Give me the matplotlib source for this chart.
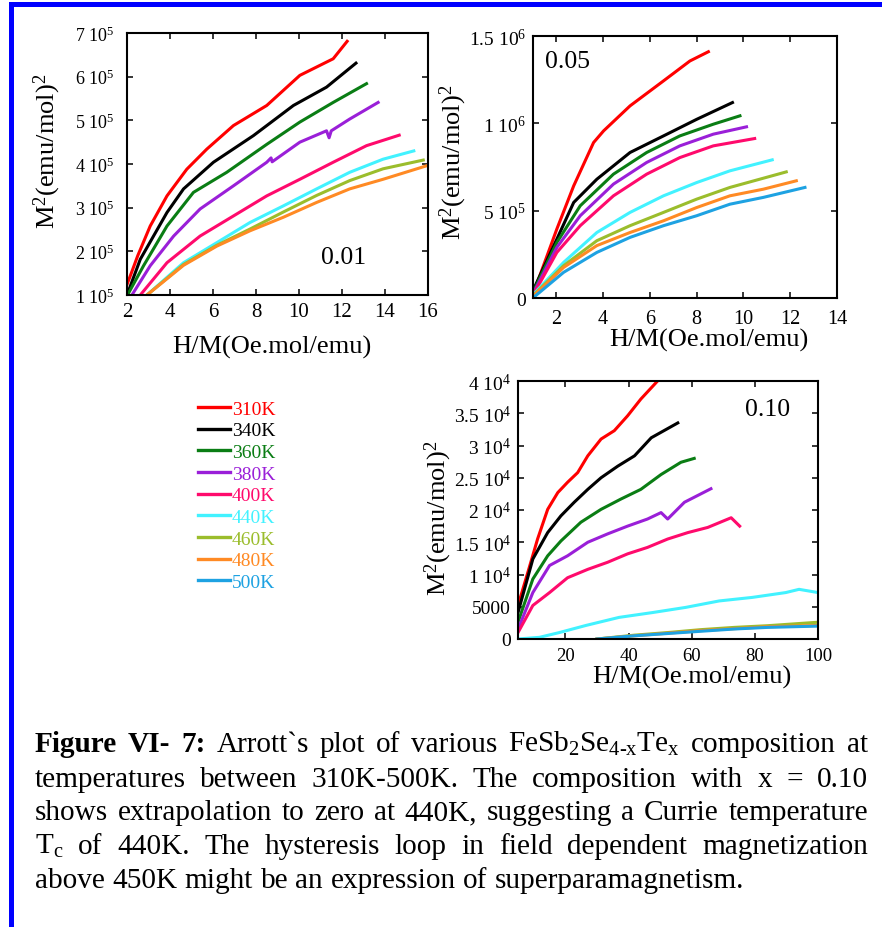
"""
Arrott plots (M^2 vs H/M) of FeSb2Se4-xTex for x = 0.01, 0.05 and 0.10,
with the shared temperature legend and the figure caption below.
"""

import matplotlib

matplotlib.use("Agg")
import matplotlib.pyplot as plt
import numpy as np
from matplotlib.lines import Line2D
from matplotlib.ticker import FuncFormatter, MultipleLocator

plt.rcParams["font.family"] = ["Liberation Serif", "DejaVu Serif"]
plt.rcParams["mathtext.fontset"] = "custom"
plt.rcParams["mathtext.rm"] = "Liberation Serif"
plt.rcParams["mathtext.it"] = "Liberation Serif:italic"
plt.rcParams["mathtext.bf"] = "Liberation Serif:bold"

TEMPS = ["310K", "340K", "360K", "380K", "400K", "440K", "460K", "480K", "500K"]
COLORS = ["#ff0000", "#000000", "#0a7d14", "#9a1fd8", "#ff0a6c",
          "#42f2ff", "#9bbd2c", "#ff8a24", "#1ea2e2"]

# ---- x = 0.01 (M^2 in units of 1e5) ----
X_001 = {
    "310K": [2.0, 2.2, 2.5, 3.08, 3.86, 4.78, 5.71, 6.95, 8.5, 10.04, 11.59, 12.24],
    "340K": [2.0, 2.62, 3.86, 4.63, 6.02, 7.88, 9.74, 11.28, 12.65],
    "360K": [2.08, 2.77, 3.86, 5.09, 6.64, 8.5, 10.04, 11.59, 13.14],
    "380K": [2.23, 3.08, 4.17, 5.4, 6.95, 8.5, 8.7, 8.75, 10.04, 11.28, 11.4, 11.5, 12.36, 13.68],
    "400K": [2.62, 3.86, 5.4, 6.95, 8.5, 10.04, 11.59, 13.14, 14.66],
    "440K": [2.93, 4.63, 6.18, 7.72, 9.27, 10.82, 12.36, 13.91, 15.34],
    "460K": [2.93, 4.63, 6.18, 7.72, 9.27, 10.82, 12.36, 13.91, 15.78],
    "480K": [2.93, 4.63, 6.18, 7.72, 9.27, 10.82, 12.36, 13.91, 15.94],
}
Y_001 = {
    "310K": [1.24, 1.5, 1.9, 2.58, 3.27, 3.88, 4.34, 4.88, 5.34, 6.03, 6.41, 6.81],
    "340K": [1.0, 1.82, 2.89, 3.43, 4.04, 4.65, 5.34, 5.76, 6.31],
    "360K": [1.05, 1.67, 2.58, 3.35, 3.81, 4.45, 4.96, 5.41, 5.84],
    "380K": [1.0, 1.67, 2.35, 2.97, 3.5, 4.04, 4.14, 4.05, 4.5, 4.76, 4.6, 4.76, 5.03, 5.41],
    "400K": [1.0, 1.74, 2.35, 2.81, 3.27, 3.65, 4.04, 4.42, 4.66],
    "440K": [1.0, 1.74, 2.2, 2.66, 3.04, 3.43, 3.81, 4.11, 4.3],
    "460K": [1.0, 1.7, 2.14, 2.51, 2.9, 3.28, 3.62, 3.89, 4.09],
    "480K": [1.0, 1.68, 2.12, 2.47, 2.78, 3.12, 3.43, 3.65, 3.96],
}

# ---- x = 0.05 (M^2 in units of 1e5) ----
X_005 = {
    "310K": [1.03, 2.02, 2.74, 3.59, 4.02, 5.15, 6.58, 7.71, 8.5],
    "340K": [1.03, 2.02, 2.74, 3.73, 5.15, 6.58, 8.0, 9.53],
    "360K": [1.03, 2.02, 3.02, 4.44, 5.86, 7.28, 8.71, 9.85],
    "380K": [1.03, 2.02, 3.02, 4.44, 5.86, 7.28, 8.71, 10.13],
    "400K": [1.03, 2.02, 3.02, 4.44, 5.86, 7.28, 8.71, 10.48],
    "440K": [1.03, 2.31, 3.73, 5.15, 6.58, 8.0, 9.42, 11.23],
    "460K": [1.03, 2.31, 3.73, 5.15, 6.58, 8.0, 9.42, 11.83],
    "480K": [1.03, 2.31, 3.73, 5.15, 6.58, 8.0, 9.42, 10.85, 12.26],
    "500K": [1.03, 2.31, 3.73, 5.15, 6.58, 8.0, 9.42, 10.85, 12.63],
}
Y_005 = {
    "310K": [0.32, 3.95, 6.42, 8.9, 9.57, 11.0, 12.43, 13.57, 14.1],
    "340K": [0.51, 3.37, 5.47, 6.8, 8.33, 9.28, 10.23, 11.19],
    "360K": [0.42, 3.18, 5.28, 7.09, 8.33, 9.28, 9.95, 10.43],
    "380K": [0.32, 2.9, 4.71, 6.52, 7.76, 8.71, 9.38, 9.8],
    "400K": [0.23, 2.61, 4.14, 5.85, 7.09, 8.04, 8.71, 9.13],
    "440K": [0.23, 2.04, 3.75, 4.9, 5.85, 6.61, 7.28, 7.91],
    "460K": [0.17, 1.85, 3.28, 4.14, 4.9, 5.66, 6.33, 7.22],
    "480K": [0.13, 1.75, 3.0, 3.75, 4.42, 5.18, 5.85, 6.23, 6.71],
    "500K": [0.04, 1.47, 2.61, 3.47, 4.14, 4.71, 5.37, 5.76, 6.33],
}

# ---- x = 0.10 (M^2 in units of 1e4) ----
X_010 = {
    "310K": [5, 8.1, 11.2, 14.4, 17.6, 20.7, 23.9, 27.1, 31.3, 35.5, 39.7, 43.9, 49.2],
    "340K": [5, 9.7, 14.4, 18.6, 22.8, 27.1, 31.3, 36.6, 41.9, 47.2, 55.6],
    "360K": [5, 9.7, 14.4, 18.6, 24.9, 31.3, 37.6, 43.9, 50.3, 56.6, 60.8],
    "380K": [5, 9.7, 15, 20.7, 27.1, 33.4, 39.7, 46, 50.3, 52.4, 57.7, 66.1],
    "400K": [5, 9.7, 15, 20.7, 27.1, 33.4, 39.7, 46, 52.4, 58.8, 65.1, 72.5, 75.2],
    "440K": [5, 11.8, 18.1, 26.5, 37.0, 47.6, 58.1, 68.7, 79.2, 89.8, 94, 100],
    "460K": [30, 41.9, 52.4, 62.9, 73.5, 84, 100],
    "480K": [30, 41.9, 52.4, 62.9, 73.5, 84, 100],
    "500K": [30, 41.9, 52.4, 62.9, 73.5, 84, 100],
}
Y_010 = {
    "310K": [0.52, 1.03, 1.55, 2.01, 2.27, 2.43, 2.58, 2.84, 3.1, 3.23, 3.46, 3.72, 4.0],
    "340K": [0.41, 1.24, 1.65, 1.91, 2.12, 2.32, 2.5, 2.68, 2.84, 3.12, 3.35],
    "360K": [0.26, 0.93, 1.29, 1.52, 1.81, 2.01, 2.17, 2.32, 2.55, 2.74, 2.8],
    "380K": [0.15, 0.72, 1.14, 1.29, 1.5, 1.63, 1.75, 1.86, 1.96, 1.86, 2.12, 2.33],
    "400K": [0.1, 0.52, 0.72, 0.95, 1.08, 1.19, 1.32, 1.42, 1.55, 1.65, 1.73, 1.88, 1.75],
    "440K": [0.0, 0.026, 0.1, 0.21, 0.335, 0.41, 0.49, 0.59, 0.645, 0.72, 0.77, 0.72],
    "460K": [0.0, 0.06, 0.1, 0.145, 0.18, 0.206, 0.26],
    "480K": [0.0, 0.05, 0.09, 0.13, 0.16, 0.19, 0.21],
    "500K": [0.0, 0.05, 0.085, 0.12, 0.155, 0.18, 0.2],
}

CAPTION = [
    [("Figure", "bold"), ("VI-", "bold"), ("7:", "bold"), ("Arrott`s", "normal"),
     ("plot", "normal"), ("of", "normal"), ("various", "normal"),
     (r"FeSb$_\mathrm{2}$Se$_\text{4-x}$Te$_\mathrm{x}$", "normal"),
     ("composition", "normal"), ("at", "normal")],
    "temperatures between 310K-500K. The composition with x = 0.10",
    "shows extrapolation to zero at 440K, suggesting a Currie temperature",
    r"T$_\mathrm{c}$ of 440K. The hysteresis loop in field dependent magnetization",
    "above 450K might be an expression of superparamagnetism.",
]

W, H = 882, 928


def sci_label(v, _pos=None):
    if v <= 0:
        return "0"
    exp = int(np.floor(np.log10(v) + 1e-9))
    if exp < 4:
        return f"{v:g}"
    return f"{v / 10 ** exp:g} 10$^{{{exp}}}$"


def fig_box(left, top, right, bottom):
    return [left / W, 1 - bottom / H, (right - left) / W, (bottom - top) / H]


def style_axes(ax, xsize, ysize, xpad, ypad):
    for s in ax.spines.values():
        s.set_linewidth(1.5)
    ax.tick_params(direction="in", top=True, right=True, length=4, width=1.1)
    ax.tick_params(axis="x", labelsize=xsize, pad=xpad)
    ax.tick_params(axis="y", labelsize=ysize, pad=ypad)
    ax.yaxis.set_major_formatter(FuncFormatter(sci_label))


def draw_panel(ax, xs, ys, scale):
    for temp, color in zip(TEMPS, COLORS):
        if temp in xs:
            ax.plot(xs[temp], np.array(ys[temp]) * scale, color=color, lw=2.2,
                    solid_joinstyle="round")


def justified(fig, renderer, words, y, x0, x1, size, stretch=True):
    texts = [fig.text(0, 1 - y / H, w, fontsize=size, fontweight=wt, va="baseline")
             for w, wt in words]
    widths = [t.get_window_extent(renderer).width for t in texts]
    space = fig.text(0, 0, "a a", fontsize=size).get_window_extent(renderer).width \
        - fig.text(0, 0, "aa", fontsize=size).get_window_extent(renderer).width
    for t in fig.texts[-2:]:
        t.remove()
    gap = (x1 - x0 - sum(widths)) / (len(words) - 1) if stretch else space
    x = x0
    for t, w in zip(texts, widths):
        t.set_x(x / W)
        x += w + gap


def main():
    fig = plt.figure(figsize=(W / 100, H / 100), dpi=100)

    ax1 = fig.add_axes(fig_box(127, 34, 428, 296))
    draw_panel(ax1, X_001, Y_001, 1e5)
    ax1.set_xlim(2, 16)
    ax1.set_ylim(1e5, 7e5)
    ax1.xaxis.set_major_locator(MultipleLocator(2))
    ax1.yaxis.set_major_locator(MultipleLocator(1e5))
    style_axes(ax1, 15, 13, 5, 9)
    ax1.text(0.718, 0.145, "0.01", transform=ax1.transAxes, fontsize=18.5,
             ha="center", va="center")

    ax2 = fig.add_axes(fig_box(533, 37, 837, 299))
    draw_panel(ax2, X_005, Y_005, 1e5)
    ax2.set_xlim(1, 14)
    ax2.set_ylim(0, 1.5e6)
    ax2.xaxis.set_major_locator(MultipleLocator(2))
    ax2.yaxis.set_major_locator(MultipleLocator(5e5))
    style_axes(ax2, 14.5, 14, 8, 5)
    ax2.text(0.112, 0.903, "0.05", transform=ax2.transAxes, fontsize=18.5,
             ha="center", va="center")

    ax3 = fig.add_axes(fig_box(518, 382, 818, 640))
    draw_panel(ax3, X_010, Y_010, 1e4)
    ax3.set_xlim(5, 100)
    ax3.set_ylim(0, 4e4)
    ax3.xaxis.set_major_locator(MultipleLocator(20))
    ax3.yaxis.set_major_locator(MultipleLocator(5000))
    style_axes(ax3, 13.5, 14, 6, 5)
    ax3.text(0.833, 0.893, "0.10", transform=ax3.transAxes, fontsize=18.5,
             ha="center", va="center")

    label_pos = [
        (ax1, (0.48, -0.195), (-0.266, 0.55)),
        (ax2, (0.58, -0.158), (-0.263, 0.52)),
        (ax3, (0.58, -0.147), (-0.267, 0.47)),
    ]
    for ax, xl, yl in label_pos:
        ax.set_xlabel("H/M(Oe.mol/emu)", fontsize=19, va="center")
        ax.set_ylabel(r"M$^\mathrm{2}$(emu/mol)$^\mathrm{2}$", fontsize=19, va="center")
        ax.xaxis.set_label_coords(*xl)
        ax.yaxis.set_label_coords(*yl)

    handles = [Line2D([], [], color=c, lw=2.4) for c in COLORS]
    fig.legend(handles, TEMPS, loc="upper left", bbox_to_anchor=(198 / W, 1 - 401 / H),
               frameon=False, fontsize=14, labelcolor="linecolor", handlelength=1.65,
               handletextpad=0.1, labelspacing=0.21, borderpad=0, borderaxespad=0)

    # blue page border, left and top only
    fig.add_artist(Line2D([11 / W, 11 / W, 1.0], [0.0, 1 - 5 / H, 1 - 5 / H],
                          transform=fig.transFigure, color="#0000ff", lw=3.6,
                          solid_joinstyle="miter"))

    # caption, justified like the source document
    renderer = fig.canvas.get_renderer()
    probe = fig.text(0, 0, CAPTION[-1], fontsize=20)
    size = 20 * 708 / probe.get_window_extent(renderer).width
    probe.remove()
    baselines = [752, 787, 820, 854, 888]
    for i, (line, y) in enumerate(zip(CAPTION, baselines)):
        words = line if isinstance(line, list) else [(w, "normal") for w in line.split(" ")]
        justified(fig, renderer, words, y, 35, 868, size, stretch=i < len(CAPTION) - 1)

    fig.savefig("out.png", dpi=100)
    plt.close(fig)


if __name__ == "__main__":
    main()
